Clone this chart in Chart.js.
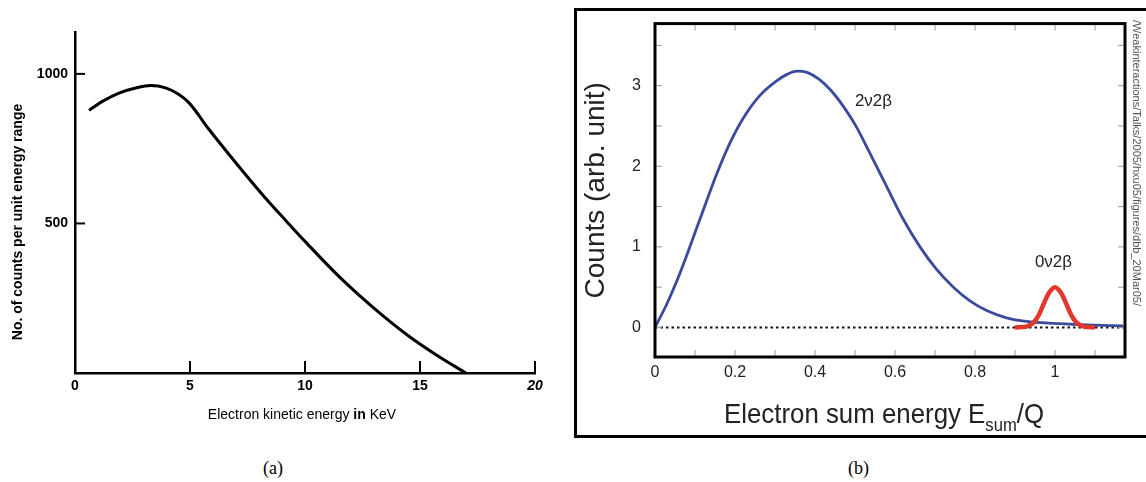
<!DOCTYPE html>
<html>
<head>
<meta charset="utf-8">
<script src="https://cdn.jsdelivr.net/npm/chart.js@4.4.1/dist/chart.umd.min.js"></script>
<style>
  html, body { margin: 0; padding: 0; background: #fff; }
  body { position: relative; width: 1146px; height: 482px; overflow: hidden; }
  #chartA { position: absolute; left: 0; top: 0; }
  #boxB { position: absolute; left: 574px; top: 8px; width: 640px; height: 430px; border: 3px solid #000; box-sizing: border-box; }
  #chartB { position: absolute; left: 570px; top: 0; }
  .caption { position: absolute; top: 458px; font: 18px "Liberation Serif", "Times New Roman", serif; color: #000; }
</style>
</head>
<body>
<canvas id="chartA" width="570" height="440"></canvas>
<div id="boxB"></div>
<canvas id="chartB" width="576" height="445"></canvas>
<div class="caption" style="left:263px">(a)</div>
<div class="caption" style="left:848px">(b)</div>
<script>
// (a) beta spectrum
const energyA = [0.61, 1.19, 1.91, 2.64, 3.29, 3.94, 4.52, 4.96, 5.83, 6.99, 8.2, 9.16, 10.0, 11.62, 13.07, 14.52, 15.68, 16.99];
const countsA = [878, 908, 936, 953, 961, 953, 931, 903, 814, 703, 592, 510, 440, 312, 212, 123, 62, 0];
const xLabelsA = [0, 5, 10, 15, 20];
const yLabelsA = [500, 1000];

// (b) double beta decay sum spectrum
const esum2nu = [0, 0.029, 0.054, 0.079, 0.104, 0.129, 0.154, 0.1875, 0.221, 0.2625, 0.304, 0.33, 0.355, 0.38, 0.41, 0.44, 0.47, 0.50, 0.5375, 0.579, 0.621, 0.6625, 0.704, 0.746, 0.7875, 0.829, 0.879, 0.929, 0.996, 1.079, 1.17];
const counts2nu = [0, 0.285, 0.57, 0.89, 1.23, 1.57, 1.90, 2.29, 2.60, 2.88, 3.06, 3.14, 3.18, 3.165, 3.08, 2.94, 2.75, 2.52, 2.16, 1.75, 1.34, 1.00, 0.72, 0.50, 0.33, 0.21, 0.12, 0.075, 0.05, 0.033, 0.02];
const esum0nu = [0.9, 0.93, 0.946, 0.96, 0.971, 0.985, 1.0, 1.015, 1.029, 1.04, 1.054, 1.07, 1.1];
const counts0nu = [0, 0.015, 0.06, 0.16, 0.285, 0.43, 0.5, 0.43, 0.285, 0.16, 0.06, 0.015, 0];
const zeroLineX = [0, 1.175];
const zeroLineY = [0, 0];

Chart.defaults.font.family = '"Liberation Sans", Arial, Helvetica, sans-serif';
Chart.defaults.color = '#000';

function toPoints(xs, ys) {
  return xs.map((x, i) => ({ x: x, y: ys[i] }));
}

// draw a list of [text, font, y] pieces centred on cx, squeezed to maxW if needed
function drawPieces(ctx, pieces, cx, maxW) {
  let total = 0;
  pieces.forEach(p => { ctx.font = p[1]; total += ctx.measureText(p[0]).width; });
  const sx = maxW ? Math.min(1, maxW / total) : 1;
  ctx.save();
  ctx.translate(cx - total * sx / 2, 0);
  ctx.scale(sx, 1);
  let tx = 0;
  ctx.textAlign = 'left';
  pieces.forEach(p => {
    ctx.font = p[1];
    ctx.fillText(p[0], tx, p[2]);
    tx += ctx.measureText(p[0]).width;
  });
  ctx.restore();
}

// extra drawing for panel (a): inward ticks and axis titles
const panelA = {
  id: 'panelA',
  afterDraw(chart) {
    const { ctx, chartArea, scales: { x, y } } = chart;
    ctx.save();
    ctx.strokeStyle = '#000';
    ctx.lineWidth = 2;
    yLabelsA.forEach(v => {
      const py = y.getPixelForValue(v);
      ctx.beginPath();
      ctx.moveTo(chartArea.left, py);
      ctx.lineTo(chartArea.left + 10, py);
      ctx.stroke();
    });
    xLabelsA.slice(1).forEach(v => {
      const px = x.getPixelForValue(v);
      ctx.beginPath();
      ctx.moveTo(px, chartArea.bottom);
      ctx.lineTo(px, chartArea.bottom - 12);
      ctx.stroke();
    });

    // x title, "in" is bold
    ctx.fillStyle = '#000';
    ctx.textBaseline = 'middle';
    drawPieces(ctx, [
      ['Electron kinetic energy ', 'normal 14px "Liberation Sans", Arial, sans-serif', 415],
      ['in', 'bold 14px "Liberation Sans", Arial, sans-serif', 415],
      [' KeV', 'normal 14px "Liberation Sans", Arial, sans-serif', 415]
    ], 302);

    // y title
    ctx.translate(18, 222);
    ctx.rotate(-Math.PI / 2);
    ctx.font = 'bold 14px "Liberation Sans", Arial, sans-serif';
    ctx.textAlign = 'center';
    ctx.fillText('No. of counts per unit energy range', 0, 0, 241);
    ctx.restore();
  }
};

new Chart(document.getElementById('chartA'), {
  type: 'scatter',
  data: {
    datasets: [{
      data: toPoints(energyA, countsA),
      showLine: true,
      borderColor: '#000',
      borderWidth: 3,
      pointRadius: 0,
      cubicInterpolationMode: 'monotone'
    }]
  },
  options: {
    responsive: false,
    animation: false,
    layout: { padding: { left: 0, top: 32, right: 35, bottom: 0 } },
    plugins: { legend: { display: false }, tooltip: { enabled: false } },
    scales: {
      x: {
        type: 'linear',
        min: 0,
        max: 20,
        grid: { display: false, drawTicks: false },
        border: { display: true, color: '#000', width: 2.5 },
        afterBuildTicks: scale => { scale.ticks = xLabelsA.map(v => ({ value: v })); },
        ticks: {
          padding: 5,
          color: '#000',
          callback: v => String(v),
          font: ctx => (ctx.tick && ctx.tick.value === 20)
            ? { size: 14, weight: 'bold', style: 'italic' }
            : { size: 14, weight: 'bold' }
        },
        afterFit: scale => { scale.height = 67; }
      },
      y: {
        min: 0,
        max: 1140,
        grid: { display: false, drawTicks: false },
        border: { display: true, color: '#000', width: 2.5 },
        afterBuildTicks: scale => { scale.ticks = yLabelsA.map(v => ({ value: v })); },
        ticks: {
          padding: 7,
          color: '#000',
          callback: v => String(v),
          font: { size: 14, weight: 'bold' }
        },
        afterFit: scale => { scale.width = 75; }
      }
    }
  },
  plugins: [panelA]
});

// extra drawing for panel (b): frame, inward ticks, labels, titles
const panelB = {
  id: 'panelB',
  afterDraw(chart) {
    const { ctx, chartArea: a, scales: { x, y } } = chart;
    ctx.save();
    // minor inward ticks
    ctx.strokeStyle = '#9a9a9a';
    ctx.lineWidth = 1;
    for (let i = 1; i <= 11; i++) {
      const px = x.getPixelForValue(i / 10);
      ctx.beginPath();
      ctx.moveTo(px, a.top); ctx.lineTo(px, a.top + 7);
      ctx.moveTo(px, a.bottom); ctx.lineTo(px, a.bottom - 7);
      ctx.stroke();
    }
    for (let i = 0; i <= 7; i++) {
      const py = y.getPixelForValue(i / 2);
      ctx.beginPath();
      ctx.moveTo(a.left, py); ctx.lineTo(a.left + 7, py);
      ctx.moveTo(a.right, py); ctx.lineTo(a.right - 7, py);
      ctx.stroke();
    }
    // frame
    ctx.strokeStyle = '#000';
    ctx.lineWidth = 3;
    ctx.strokeRect(a.left, a.top, a.right - a.left, a.bottom - a.top);

    // curve labels
    ctx.fillStyle = '#222';
    ctx.font = '17px "Liberation Sans", Arial, sans-serif';
    ctx.textAlign = 'center';
    ctx.textBaseline = 'middle';
    ctx.fillText('2ν2β', x.getPixelForValue(0.546), y.getPixelForValue(2.8), 37);
    ctx.fillText('0ν2β', x.getPixelForValue(0.996), y.getPixelForValue(0.81), 37);

    // x title with subscript
    ctx.textBaseline = 'alphabetic';
    drawPieces(ctx, [
      ['Electron sum energy E', '28px "Liberation Sans", Arial, sans-serif', 423],
      ['sum', '18px "Liberation Sans", Arial, sans-serif', 431],
      ['/Q', '28px "Liberation Sans", Arial, sans-serif', 423]
    ], (a.left + a.right) / 2 - 6, 320);

    // file path printed along the right edge
    ctx.translate(566, 20);
    ctx.rotate(Math.PI / 2);
    ctx.fillStyle = '#555';
    ctx.textAlign = 'left';
    ctx.font = '11px "Liberation Sans Narrow", "Liberation Sans", Arial, sans-serif';
    ctx.textBaseline = 'middle';
    ctx.fillText('/Weakinteractions/Talks/2005/hxu05/figures/dbb_20Mar05/', 0, 0, 327);
    ctx.restore();
  }
};

new Chart(document.getElementById('chartB'), {
  type: 'scatter',
  data: {
    datasets: [
      {
        data: toPoints(esum0nu, counts0nu),
        showLine: true,
        borderColor: '#e2372c',
        borderWidth: 4.5,
        pointRadius: 0,
        cubicInterpolationMode: 'monotone',
        order: 0
      },
      {
        data: toPoints(esum2nu, counts2nu),
        showLine: true,
        borderColor: '#3a4a9c',
        borderWidth: 2.8,
        pointRadius: 0,
        cubicInterpolationMode: 'monotone',
        order: 1
      },
      {
        data: toPoints(zeroLineX, zeroLineY),
        showLine: true,
        borderColor: '#111',
        borderWidth: 2,
        borderDash: [2.5, 3],
        pointRadius: 0,
        order: 2
      }
    ]
  },
  options: {
    responsive: false,
    animation: false,
    layout: { padding: { left: 0, top: 18, right: 21, bottom: 0 } },
    plugins: { legend: { display: false }, tooltip: { enabled: false } },
    scales: {
      x: {
        type: 'linear',
        min: 0,
        max: 1.175,
        grid: { display: false, drawTicks: false },
        border: { display: false },
        ticks: {
          stepSize: 0.2,
          includeBounds: false,
          padding: 6,
          color: '#222',
          font: { size: 16 },
          callback: v => String(Number(v.toFixed(1)))
        },
        afterFit: scale => { scale.height = 88; }
      },
      y: {
        min: -0.366,
        max: 3.77,
        grid: { display: false, drawTicks: false },
        border: { display: false },
        ticks: {
          stepSize: 1,
          includeBounds: false,
          padding: 14,
          color: '#222',
          font: { size: 16 }
        },
        title: {
          display: true,
          text: 'Counts (arb. unit)',
          color: '#222',
          font: { size: 28 },
          padding: { top: 9, bottom: 0 }
        },
        afterFit: scale => { scale.width = 85; }
      }
    }
  },
  plugins: [panelB]
});
</script>
</body>
</html>
